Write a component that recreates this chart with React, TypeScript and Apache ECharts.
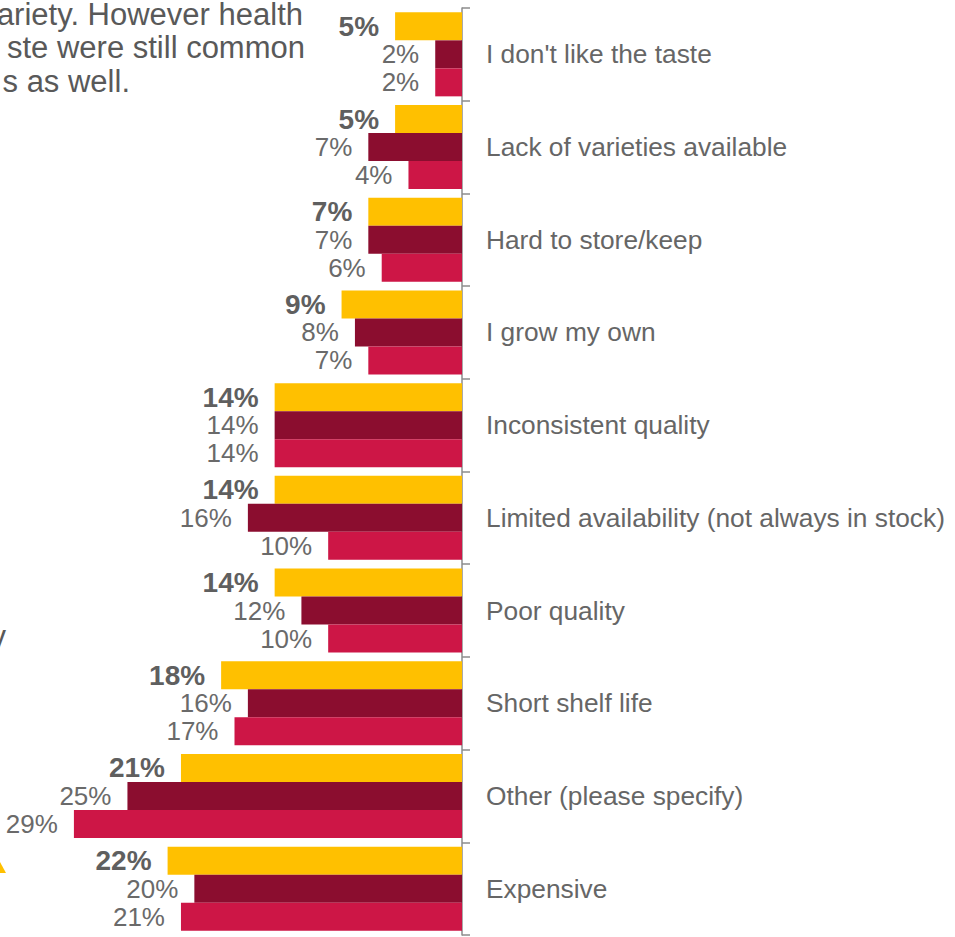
import React, { useEffect, useRef } from "react";
import * as echarts from "echarts";

const categories = [
  "I don't like the taste",
  "Lack of varieties available",
  "Hard to store/keep",
  "I grow my own",
  "Inconsistent quality",
  "Limited availability (not always in stock)",
  "Poor quality",
  "Short shelf life",
  "Other (please specify)",
  "Expensive",
];

const seriesA = [5, 5, 7, 9, 14, 14, 14, 18, 21, 22];
const seriesB = [2, 7, 7, 8, 14, 16, 12, 16, 25, 20];
const seriesC = [2, 4, 6, 7, 14, 10, 10, 17, 29, 21];

const seriesNames = ["Series 1", "Series 2", "Series 3"];
const colors = ["#FFC000", "#8B0D2F", "#CD1646"];

const textLines = [
  "ariety. However health",
  "ste were still common",
  "s as well.",
];

const FONT = "'Liberation Sans', Arial, sans-serif";

export default function App() {
  const ref = useRef<HTMLDivElement>(null);

  useEffect(() => {
    if (!ref.current) return;
    const chart = echarts.init(ref.current, undefined, { renderer: "svg" });
    const allData = [seriesA, seriesB, seriesC];
    const lineRights = [303, 305, 130];
    const lineMiddles = [14, 47, 81];
    chart.setOption({
      animation: false,
      backgroundColor: "#ffffff",
      grid: { left: 7, right: 493, top: 8, bottom: 2, containLabel: false },
      xAxis: {
        type: "value",
        inverse: true,
        min: 0,
        max: 34,
        show: false,
        splitLine: { show: false },
      },
      yAxis: {
        type: "category",
        data: categories,
        inverse: true,
        position: "right",
        axisLine: { show: true, lineStyle: { color: "#8c8c8c", width: 1.5 } },
        axisTick: { show: true, length: 8, lineStyle: { color: "#8c8c8c", width: 1.5 } },
        axisLabel: {
          margin: 24,
          fontSize: 26.3,
          color: "#666666",
          fontFamily: FONT,
        },
        splitLine: { show: false },
      },
      series: allData.map((d, i) => ({
        name: seriesNames[i],
        type: "bar",
        data: d,
        barWidth: 28,
        barGap: "0%",
        itemStyle: { color: colors[i] },
        label: {
          show: true,
          position: "left",
          distance: 16,
          formatter: "{c}%",
          fontFamily: FONT,
          fontSize: i === 0 ? 28 : 26,
          fontWeight: i === 0 ? "bold" : "normal",
          color: i === 0 ? "#5f5f5f" : "#6a6a6a",
        },
      })),
      graphic: [
        ...textLines.map((t, i) => ({
          type: "text",
          x: lineRights[i],
          y: lineMiddles[i],
          style: {
            text: t,
            fontSize: 31,
            fontFamily: FONT,
            fill: "#595959",
            textAlign: "right",
            textVerticalAlign: "middle",
          },
        })),
        {
          type: "text",
          x: 6,
          y: 636,
          style: {
            text: "y",
            fontSize: 31,
            fontFamily: FONT,
            fill: "#595959",
            textAlign: "right",
            textVerticalAlign: "middle",
          },
        },
        {
          type: "polygon",
          shape: { points: [[0, 862], [6, 873], [0, 873]] },
          style: { fill: "#FFC000" },
        },
      ],
    });
    return () => chart.dispose();
  }, []);

  return (
    <div
      ref={ref}
      style={{ position: "fixed", left: 0, top: 0, width: 955, height: 937 }}
    />
  );
}
